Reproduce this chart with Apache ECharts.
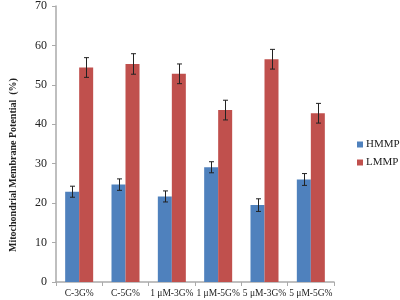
<!DOCTYPE html>
<html>
<head>
<meta charset="utf-8">
<script src="https://cdn.jsdelivr.net/npm/echarts@6/dist/echarts.min.js"></script>
<style>
  html, body { margin: 0; padding: 0; background: #fff; }
  #chart { width: 400px; height: 300px; }
</style>
</head>
<body>
<div id="chart"></div>
<script>
var categories = ['C-3G%', 'C-5G%', '1 μM-3G%', '1 μM-5G%', '5 μM-3G%', '5 μM-5G%']
var hmmp = [22.9, 24.7, 21.7, 29.1, 19.5, 26.0]
var hmmpErr = [1.4, 1.45, 1.4, 1.4, 1.6, 1.5]
var lmmp = [54.4, 55.3, 52.8, 43.6, 56.5, 42.8]
var lmmpErr = [2.5, 2.6, 2.5, 2.5, 2.5, 2.5]
var yTicks = [0, 10, 20, 30, 40, 50, 60, 70]

var serif = '"Times New Roman", "Liberation Serif", serif'
var barW = 14

// error bars drawn with the axis scales, shifted to sit on each bar of the group
function errorSeries(name, values, errs, shift) {
  return {
    name: name + ' err',
    type: 'custom',
    z: 5,
    data: values.map((v, i) => [i, v - errs[i], v + errs[i]]),
    renderItem: function(params, api) {
      var lo = api.coord([api.value(0), api.value(1)])
      var hi = api.coord([api.value(0), api.value(2)])
      var x = Math.round(lo[0] + shift) + 0.5
      var cap = 2.5
      var style = { stroke: '#222', lineWidth: 1 }
      return {
        type: 'group',
        children: [
          { type: 'line', shape: { x1: x, y1: hi[1], x2: x, y2: lo[1] }, style: style },
          { type: 'line', shape: { x1: x - cap, y1: hi[1], x2: x + cap, y2: hi[1] }, style: style },
          { type: 'line', shape: { x1: x - cap, y1: lo[1], x2: x + cap, y2: lo[1] }, style: style }
        ]
      }
    }
  }
}

var chart = echarts.init(document.getElementById('chart'))
chart.setOption({
  animation: false,
  grid: { left: 45, right: 66, top: 6, bottom: 18, containLabel: false },
  legend: {
    data: ['HMMP', 'LMMP'],
    orient: 'vertical',
    left: 352,
    top: 134,
    icon: 'rect',
    itemWidth: 6,
    itemHeight: 6,
    itemGap: 7,
    textStyle: { fontFamily: serif, fontSize: 11, color: '#222', padding: [0, 0, 0, -2] }
  },
  xAxis: {
    type: 'category',
    data: categories,
    axisLine: { lineStyle: { color: '#aaa', width: 1.5 } },
    axisTick: { show: true, alignWithLabel: false, length: 4, lineStyle: { color: '#aaa' } },
    axisLabel: { fontFamily: serif, fontSize: 9.5, color: '#222', margin: 6, interval: 0 }
  },
  yAxis: {
    type: 'value',
    min: yTicks[0],
    max: yTicks[yTicks.length - 1],
    interval: 10,
    name: 'Mitochondrial Membrane Potential  (%)',
    nameLocation: 'middle',
    nameGap: 38,
    nameTextStyle: { fontFamily: serif, fontSize: 10, fontWeight: 'bold', color: '#222', padding: [0, 42, 0, 0] },
    axisLine: { show: true, lineStyle: { color: '#aaa', width: 1.5 } },
    axisTick: { show: true, length: 4, lineStyle: { color: '#aaa' } },
    splitLine: { show: false },
    axisLabel: { fontFamily: serif, fontSize: 12, color: '#222', margin: 9 }
  },
  series: [
    {
      name: 'HMMP',
      type: 'bar',
      data: hmmp,
      barWidth: barW,
      barGap: '0%',
      itemStyle: { color: '#4F81BD' }
    },
    {
      name: 'LMMP',
      type: 'bar',
      data: lmmp,
      barWidth: barW,
      barGap: '0%',
      itemStyle: { color: '#C0504D' }
    },
    errorSeries('HMMP', hmmp, hmmpErr, -barW / 2),
    errorSeries('LMMP', lmmp, lmmpErr, barW / 2)
  ]
})
</script>
</body>
</html>
